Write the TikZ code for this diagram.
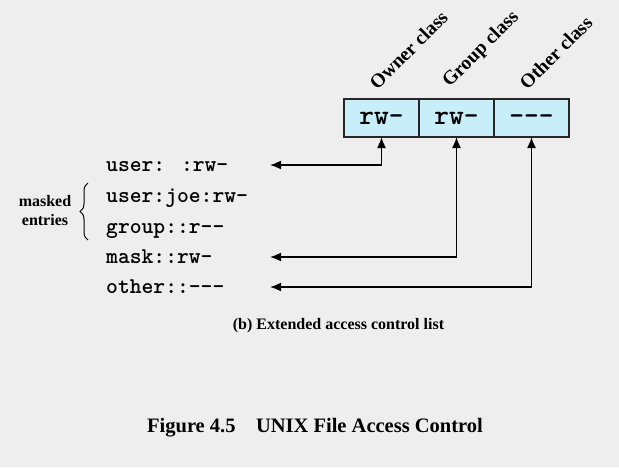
\documentclass[tikz,border=0pt]{standalone}
\usepackage{fontspec}
\setmainfont{Liberation Serif}
\usetikzlibrary{positioning}
\usetikzlibrary{arrows.meta}
\usetikzlibrary{decorations.pathreplacing}
\definecolor{bggray}{HTML}{EEEEEE}
\definecolor{cellblue}{HTML}{C8EEF9}

\begin{document}
\begin{tikzpicture}[x=1pt,y=-1pt]
\tikzstyle{cell} = [rectangle, draw=black!85, line width=1.5pt, fill=cellblue,
minimum width=75pt, minimum height=38pt, inner sep=0pt, outer sep=0pt,
text height=12pt, text depth=0pt,
font=\ttfamily\bfseries\fontsize{28}{28}\selectfont]
\tikzstyle{classlbl} = [rotate=45, anchor=south west, inner sep=0pt,
font=\bfseries\fontsize{19.5}{19.5}\selectfont]
\tikzstyle{entry} = [anchor=west, inner sep=0pt, text height=10pt, text depth=0pt,
font=\ttfamily\bfseries\fontsize{22.5}{22.5}\selectfont]
\tikzstyle{note} = [inner sep=0pt, font=\bfseries\fontsize{16}{19}\selectfont]
\tikzstyle{link} = [draw, line width=1.6pt,
{Latex[length=11pt,width=9pt]}-{Latex[length=11pt,width=9pt]}]
\useasboundingbox[fill=bggray] (0,0) rectangle (619,467);
% permission cells
\node[cell] (owner) at (381.5,118) {rw-};
\node[cell, right=0pt of owner] (group) {rw-};
\node[cell, right=0pt of group] (other) {-{}-{}-};
% class labels
\node[classlbl] (ownerlbl) at ([xshift=-4pt,yshift=8pt]owner.north) {Owner class};
\node[classlbl] (grouplbl) at ([xshift=-4pt,yshift=8pt]group.north) {Group class};
\node[classlbl] (otherlbl) at ([xshift=-4pt,yshift=8pt]other.north) {Other class};
% acl entries
\node[entry] (userE) at (106,166) {user: :rw-};
\node[entry] (joeE) at (106,197) {user:joe:rw-};
\node[entry] (groupE) at (106,228) {group::r-{}-};
\node[entry] (maskE) at (106,258) {mask::rw-};
\node[entry] (otherE) at (106,288) {other::-{}-{}-};
% masked entries
\coordinate (braceTop) at ([xshift=-18pt,yshift=14pt]joeE.west);
\coordinate (braceBot) at ([xshift=-18pt,yshift=-12pt]groupE.west);
\draw[decorate, decoration={brace, amplitude=8pt}, line width=1pt] (braceBot) -- (braceTop);
\node[note, align=center] (masked) at (45,211) {masked\\entries};
% connectors
\draw[link] (owner.south) |- ([xshift=164pt,yshift=1pt]userE.west);
\draw[link] (group.south) |- ([xshift=164pt,yshift=1pt]maskE.west);
\draw[link] (other.south) |- ([xshift=164pt,yshift=1pt]otherE.west);
% captions
\node[note] (sub) at (338.5,326) {(b) Extended access control list};
\node[note, font=\bfseries\fontsize{20.5}{21}\selectfont] (title) at (315,428)
{Figure 4.5\quad UNIX File Access Control};
\end{tikzpicture}
\end{document}
